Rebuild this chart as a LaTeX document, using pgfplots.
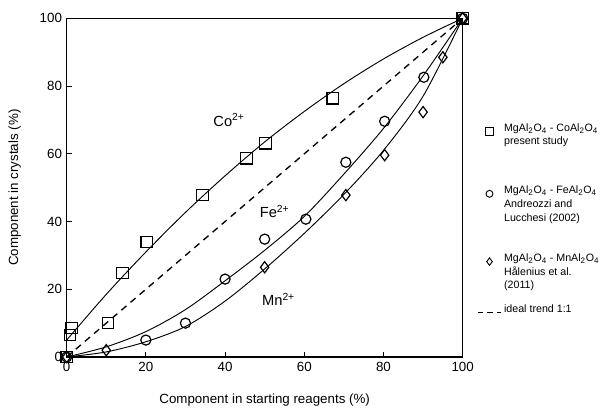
\documentclass[border=0pt]{standalone}
\usepackage{fontspec}
\setmainfont{Liberation Sans}
\usepackage{pgfplots}
\pgfplotsset{compat=1.18}
% legend text: lines stacked, baseline on the first line, extra room below
\newcommand\lgd[2]{\vtop{\baselineskip=10.2pt\lineskiplimit=0pt #1\vskip#2}}
\begin{document}
\begin{tikzpicture}
\path[use as bounding box] (0,0) rectangle (457.5pt,308.25pt);
\begin{axis}[
  at={(50pt,40.5pt)}, anchor=south west,
  scale only axis, width=297pt, height=254pt,
  xmin=0, xmax=100, ymin=0, ymax=100,
  xtick={0,20,...,100}, ytick={0,20,...,100},
  tick align=inside, xtick pos=bottom, ytick pos=left,
  major tick length=4pt,
  axis line style={line width=0.9pt},
  tick style={line width=0.7pt, black},
  ticklabel style={font=\fontsize{10}{12}\selectfont},
  /pgf/number format/assume math mode=true,
  xlabel={Component in starting reagents (\%)},
  ylabel={Component in crystals (\%)},
  label style={font=\fontsize{10}{12}\selectfont},
  xlabel style={at={(axis description cs:0.5,-0.126)}, anchor=center},
  ylabel style={at={(axis description cs:-0.131,0.5)}, anchor=center},
  clip=false,
  legend style={draw=none, fill=none, at={(1.037,0.698)}, anchor=north west,
    font=\fontsize{8}{10.2}\selectfont, cells={anchor=base west},
    nodes={text depth=}, row sep=6.5pt, inner sep=0pt},
]
% fitted trends
\addplot[smooth, line width=0.7pt, forget plot] coordinates {
  (0,5) (10,18.5) (20,31) (30,42.7) (40,53.5) (50,63.5) (60,72.5) (70,80.7) (80,88) (90,94.4) (100,100)};
\addplot[smooth, line width=0.7pt, forget plot] coordinates {
  (0,0) (10,3) (20,7.5) (30,14) (40,22.5) (50,31.5) (60,41.5) (70,54) (80,67.5) (90,83) (100,100)};
\addplot[smooth, line width=0.7pt, forget plot] coordinates {
  (0,0) (10,1.5) (20,4.5) (30,9) (40,16.5) (50,26) (60,36.5) (70,48) (80,61) (90,77) (100,100)};
\addplot[dashed, dash pattern=on 5pt off 4pt, line width=1pt, forget plot] coordinates {(0,0) (100,100)};

% data
\addplot[only marks, mark=square, mark size=4.3pt, line width=0.9pt, forget plot] coordinates {
  (0,0) (0.8,6.5) (1.3,8.6) (10.4,10) (14.1,24.8) (20.2,34) (34.3,47.8) (45.4,58.7) (50.2,63.1) (67.2,76.4) (100,100)};
\addplot[only marks, mark=o, mark size=3.8pt, line width=0.9pt, forget plot] coordinates {
  (0,0) (20,5) (30,10) (40,23) (50,34.8) (60.4,40.7) (70.5,57.5) (80.3,69.6) (90.2,82.6) (100,100)};
\addplot[only marks, mark=diamond, mark size=4.2pt, line width=0.9pt, forget plot] coordinates {
  (0,0) (10,2) (50,26.5) (70.5,47.8) (80.3,59.6) (90,72.3) (95,88.5) (100,100)};

\node[font=\fontsize{11}{13}\selectfont] at (axis cs:41,70) {Co\textsuperscript{2+}};
\node[font=\fontsize{11}{13}\selectfont] at (axis cs:52.5,43) {Fe\textsuperscript{2+}};
\node[font=\fontsize{11}{13}\selectfont] at (axis cs:53.5,17) {Mn\textsuperscript{2+}};

% legend
\addlegendimage{only marks, mark=square, mark size=2.8pt, line width=0.7pt}
\addlegendentry{\lgd{\hbox{MgAl\textsubscript{2}O\textsubscript{4} - CoAl\textsubscript{2}O\textsubscript{4}}\hbox{present study}}{18.75pt}}
\addlegendimage{only marks, mark=o, mark size=2.6pt, line width=0.7pt}
\addlegendentry{\lgd{\hbox{MgAl\textsubscript{2}O\textsubscript{4} - FeAl\textsubscript{2}O\textsubscript{4}}\hbox{Andreozzi and}\hbox{Lucchesi (2002)}}{12.5pt}}
\addlegendimage{only marks, mark=diamond, mark size=2.8pt, line width=0.7pt}
\addlegendentry{\lgd{\hbox{MgAl\textsubscript{2}O\textsubscript{4} - MnAl\textsubscript{2}O\textsubscript{4}}\hbox{Hålenius et al.}\hbox{(2011)}}{0pt}}
\addlegendimage{dashed, dash pattern=on 4pt off 3pt, line width=0.8pt}
\addlegendentry{ideal trend 1:1}
\end{axis}
\end{tikzpicture}
\end{document}
